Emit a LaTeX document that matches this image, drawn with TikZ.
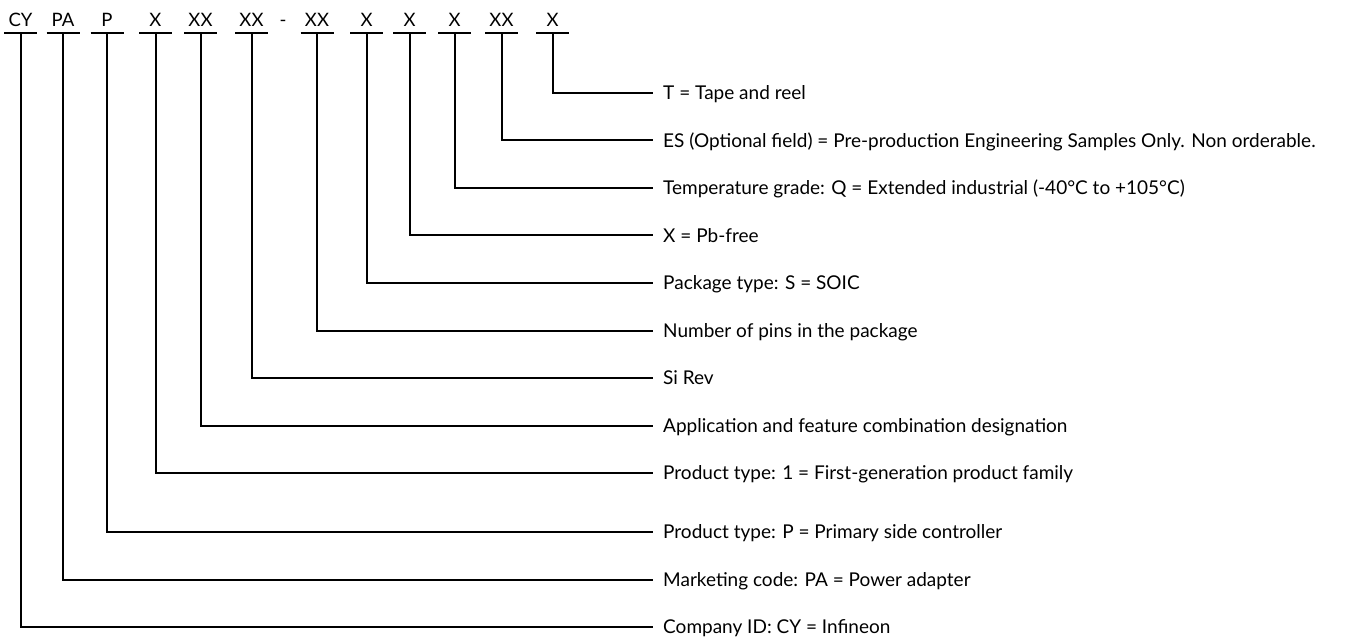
\documentclass[tikz,border=0pt]{standalone}
\usepackage{fontspec}
\setmainfont{Lato}
\begin{document}
\begin{tikzpicture}[x=1pt,y=-1pt,
  lbl/.style={font=\fontsize{18.5}{22}\selectfont, inner sep=0pt, anchor=base},
  desc/.style={font=\fontsize{19}{22}\selectfont, inner sep=0pt, anchor=base west},
  ln/.style={line width=2pt},
  conn/.style={line width=2pt}]
\useasboundingbox (0,0) rectangle (1353,639);
% fields: index/x/label/row/text
\foreach \i/\x/\t/\r/\d in {
 1/20.5/CY/627/{Company ID: CY = Infineon},
 2/63/PA/580/{Marketing code: PA = Power adapter},
 3/107/P/532/{Product type: P = Primary side controller},
 4/155.5/X/473/{Product type: 1 = First-generation product family},
 5/200.5/XX/425.5/{Application and feature combination designation},
 6/251.5/XX/378/{Si Rev},
 7/317/XX/330.5/{Number of pins in the package},
 8/366.5/X/283/{Package type: S = SOIC},
 9/409.5/X/235.5/{X = Pb-free},
 10/454.5/X/188/{Temperature grade: Q = Extended industrial (-40°C to +105°C)},
 11/501.5/XX/140.5/{ES (Optional field) = Pre-production Engineering Samples Only. Non orderable.},
 12/552.5/X/93/{T = Tape and reel}}{
  \node[lbl] (l\i) at (\x,27) {\t};
  \coordinate (ul\i) at (\x-16.5,33);
  \coordinate (ur\i) at (\x+16.5,33);
  \coordinate (s\i) at (\x,33);
  \coordinate (e\i) at (653,\r);
  \node[desc] (d\i) at (663,\r+6.7) {\d};
  \draw[ln] (ul\i) -- (ur\i);
  \draw[conn] (s\i) |- (e\i);
}
\node[lbl] (dash) at (283,27) {-};
\end{tikzpicture}
\end{document}
